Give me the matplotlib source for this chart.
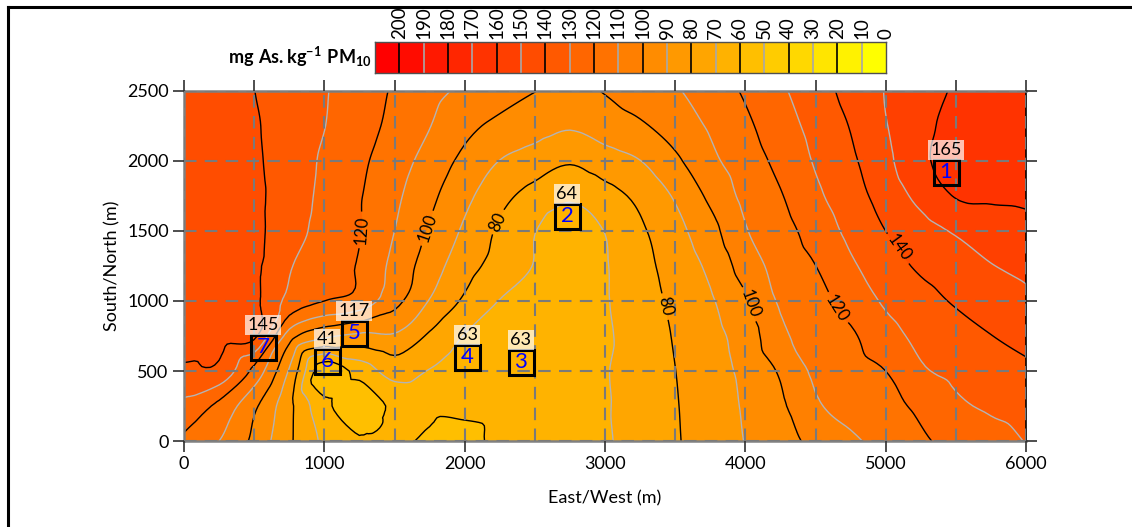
import numpy as np
import matplotlib
matplotlib.use("Agg")
import matplotlib.pyplot as plt
import matplotlib.tri as mtri
from matplotlib import font_manager
from matplotlib.colors import ListedColormap
from matplotlib.lines import Line2D

# ---------------- data ----------------
x_nodes = np.arange(0, 6001, 250)          # East/West (m)
y_nodes = np.arange(0, 2501, 250)          # South/North (m)

row_0    = [118, 110, 97.6, 81.6, 68, 61, 61, 59, 56.5, 63, 64.5, 66.5, 69, 74.1, 79.1, 84.6, 90.3, 96.5, 102.5, 108.2, 113.5, 118.6, 122.9, 126.8, 130.3]
row_250  = [127, 117.4, 102, 82.6, 63, 53, 62, 62, 62.5, 63, 64.5, 66, 69.2, 74.3, 79.4, 85.1, 91.1, 98.3, 108.6, 113.4, 117.3, 121.9, 128.2, 131.3, 133]
row_500  = [138, 137.5, 117, 89, 53, 64, 74, 69.5, 65, 63, 63, 64, 69.3, 74.6, 79.9, 85.8, 92.4, 101.2, 111.9, 116, 120, 128.6, 132.4, 135.2, 138]
row_750  = [145, 143.5, 142.0, 105.0, 92.0, 88.0, 88.8, 78.6, 69.6, 66.0, 64.0, 64.0, 68.5, 75.0, 80.7, 86.9, 94.5, 107.8, 114.1, 118.6, 126.4, 132.3, 136.1, 139.8, 143.0]
row_1000 = [148, 145.5, 142.0, 127.0, 120.0, 116.0, 103.3, 89.5, 78.4, 69.7, 65.5, 64.0, 69.2, 75.7, 82.1, 88.8, 98.5, 111.3, 116.8, 123.5, 131.4, 136.4, 141.0, 144.5, 148.0]
row_1250 = [149, 146, 142.0, 130.8, 125.0, 119.0, 107.1, 95.0, 84.1, 76.1, 69.5, 64.0, 69.3, 76.7, 84.1, 92.2, 104.4, 113.8, 119.9, 128.4, 135.6, 141.5, 145.5, 149.6, 152.0]
row_1500 = [149, 146, 142.2, 134.3, 126.5, 120.5, 110.0, 98.9, 88.4, 78.4, 70.3, 64.0, 70.3, 78.4, 86.8, 96.5, 109.2, 116.3, 124.0, 132.5, 140.0, 145.9, 151.0, 154.5, 157.0]
row_1750 = [149, 146, 142.0, 135.3, 127.6, 120.7, 112.1, 102.4, 92.7, 83.1, 76.5, 71.5, 76.5, 82.4, 91.1, 102.0, 112.5, 119.3, 128.0, 135.8, 144.0, 152.9, 160.5, 161.5, 162.0]
row_2000 = [149, 146, 141.5, 135.2, 128.6, 122.0, 114.6, 106.2, 97.5, 89.8, 85.3, 81.0, 85.5, 89.8, 98.1, 107.6, 115.2, 122.6, 130.9, 138.2, 147.6, 157.8, 164.0, 166.0, 167.0]
row_2250 = [149, 146, 141.0, 135.6, 130.2, 124.0, 117.4, 110.3, 102.6, 97.7, 94.3, 91.0, 94.9, 98.6, 104.4, 111.2, 118.1, 125.6, 133.1, 140.5, 149.5, 157.2, 163.0, 166.0, 168.0]
row_2500 = [149, 145, 140.1, 135.4, 130.7, 124.9, 118.9, 113.0, 108.2, 104.2, 100.2, 97.0, 100.6, 104.8, 109.0, 114.8, 121.2, 128.4, 135.8, 143.2, 150.4, 156.1, 161.0, 164.0, 167.0]

site_id    = [1, 2, 3, 4, 5, 6, 7]
site_x     = [5430, 2729, 2401, 2017, 1211, 1019, 563]
site_y     = [1921, 1607, 564, 600, 771, 571, 671]
site_value = [165, 64, 63, 63, 117, 41, 145]

legend_labels = [200, 190, 180, 170, 160, 150, 140, 130, 120, 110, 100,
                 90, 80, 70, 60, 50, 40, 30, 20, 10, 0]

# contour label anchor spots (layout)
label_spots = [(1268, 1507), (1730, 1521), (2228, 1569), (3428, 960),
               (4045, 983), (4675, 959), (5078, 1364)]

# ---------------- style ----------------
names = {f.name for f in font_manager.fontManager.ttflist}
FONT = "Lato" if "Lato" in names else "DejaVu Sans"
plt.rcParams["font.family"] = [FONT, "DejaVu Sans"]
plt.rcParams["mathtext.fontset"] = "custom"
plt.rcParams["mathtext.rm"] = FONT
plt.rcParams["mathtext.bf"] = FONT + ":bold"

levels = np.arange(0, 211, 10)
band_colors = [(1.0, (20 - j) / 20.0, 0.0) for j in range(21)]   # band [10j, 10j+10]
black_levels = [60, 80, 100, 120, 140, 160]
gray_levels = [50, 70, 90, 110, 130, 150]

Z = np.array([row_0, row_250, row_500, row_750, row_1000, row_1250,
              row_1500, row_1750, row_2000, row_2250, row_2500])
X, Y = np.meshgrid(x_nodes, y_nodes)

# smooth rendering of the gridded field by matplotlib's triangulation tools
tri = mtri.Triangulation(X.ravel(), Y.ravel())
interp = mtri.CubicTriInterpolator(tri, Z.ravel(), kind="geom")
tri_f, z_f = mtri.UniformTriRefiner(tri).refine_field(Z.ravel(), triinterpolator=interp, subdiv=3)

W, H = 1132, 527
fig = plt.figure(figsize=(W / 100, H / 100), dpi=100)
ax = fig.add_axes([184 / W, 1 - 441 / H, (1026 - 184) / W, (441 - 91) / H])

ax.tricontourf(tri_f, z_f, levels=levels, colors=band_colors, zorder=1)
ax.tricontour(tri_f, z_f, levels=gray_levels, colors="#b4b4b4", linewidths=1.0, zorder=2)
cs_black = ax.tricontour(tri_f, z_f, levels=black_levels, colors="black", linewidths=1.0, zorder=2)
ax.clabel(cs_black, fmt="%d", manual=label_spots, inline=True, inline_spacing=4,
          fontsize=12, colors="black")

ax.set_xlim(0, 6000)
ax.set_ylim(0, 2500)
ax.set_xticks(np.arange(0, 6001, 1000))
ax.set_xticks(np.arange(0, 6001, 500), minor=True)
ax.set_yticks(np.arange(0, 2501, 500))
ax.set_axisbelow(False)
ax.grid(True, which="both", color="#7a7a7a", linestyle=(0, (6, 4)), linewidth=1.5)
ax.tick_params(which="both", direction="out", top=True, right=True, length=8,
               width=1.2, color="#303030", labelsize=13, pad=3)
ax.tick_params(which="minor", bottom=False)
for side in ["left", "bottom", "top"]:
    ax.spines[side].set_color("#808080")
    ax.spines[side].set_linewidth(1.8)
ax.spines["right"].set_color("black")
ax.spines["right"].set_linewidth(1.2)

ax.set_xlabel("East/West (m)", fontsize=13, labelpad=13)
ax.set_ylabel("South/North (m)", fontsize=13, labelpad=5)

# sites
ax.plot(site_x, site_y, "s", ms=18, mfc="none", mec="black", mew=2.2, ls="none", zorder=5)
for sid, sx, sy, sv in zip(site_id, site_x, site_y, site_value):
    ax.text(sx, sy, str(sid), color="#0000ff", ha="center", va="center",
            fontsize=16, zorder=6)
    ax.annotate(str(sv), (sx, sy), xytext=(0, 16), textcoords="offset points",
                ha="center", va="center", fontsize=13, zorder=6,
                bbox=dict(boxstyle="square,pad=0.12", fc="white", ec="none", alpha=0.7))

# legend bar
cax = fig.add_axes([375 / W, 1 - 73 / H, (886 - 375) / W, 31 / H])
cell_cmap = ListedColormap([(1.0, k / 20.0, 0.0) for k in range(21)])
cax.imshow(np.arange(21)[None, :], cmap=cell_cmap, aspect="auto",
           extent=(0, 21, 0, 1), interpolation="nearest")
for k, lab in enumerate(legend_labels[:-1]):
    cax.axvline(k + 1, color="black" if lab % 20 == 0 else "#a8a8a8", lw=1.2)
cax.set_xlim(0, 21)
cax.set_ylim(0, 1)
cax.set_yticks([])
cax.set_xticks(np.arange(1, 22))
cax.set_xticklabels([str(v) for v in legend_labels], rotation=90)
cax.xaxis.tick_top()
cax.tick_params(axis="x", length=0, labelsize=13.5, pad=2)
for s in cax.spines.values():
    s.set_color("#505050")
    s.set_linewidth(1.0)

fig.text(372 / W, 1 - 57 / H, r"$\mathbf{mg\ As.kg^{-1}\ PM_{10}}$",
         ha="right", va="center", fontsize=13)

# frame lines of the figure
fig.add_artist(Line2D([8 / W, 8 / W], [0, 1 - 7 / H], color="black", lw=2.2,
                      transform=fig.transFigure))
fig.add_artist(Line2D([8 / W, 1], [1 - 7 / H, 1 - 7 / H], color="black", lw=2.2,
                      transform=fig.transFigure))

fig.savefig("out.png", dpi=100)
